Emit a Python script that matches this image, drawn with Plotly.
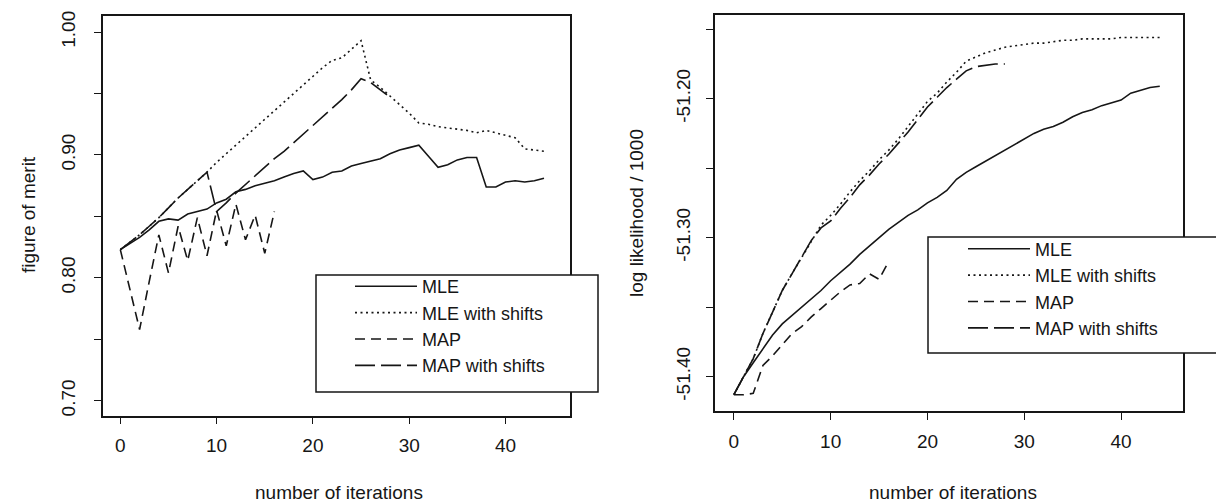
import plotly.graph_objects as go

# ---------------- data ----------------
iters_full = list(range(0, 45))
iters_map = list(range(0, 17))
iters_map_shift = list(range(0, 29))

# left panel: figure of merit
fom_mle = [0.823, 0.828, 0.833, 0.839, 0.846, 0.848, 0.847, 0.852, 0.854, 0.856,
           0.861, 0.864, 0.870, 0.872, 0.875, 0.877, 0.879, 0.882, 0.885, 0.887,
           0.880, 0.882, 0.886, 0.887, 0.891, 0.893, 0.895, 0.897, 0.901, 0.904,
           0.906, 0.908, 0.899, 0.890, 0.892, 0.896, 0.898, 0.898, 0.874, 0.874,
           0.878, 0.879, 0.878, 0.879, 0.881]
fom_mle_shift = [0.823, 0.829, 0.835, 0.842, 0.849, 0.857, 0.865, 0.872, 0.879, 0.886,
                 0.894, 0.901, 0.908, 0.915, 0.922, 0.929, 0.936, 0.943, 0.950, 0.957,
                 0.964, 0.971, 0.977, 0.979, 0.986, 0.993, 0.961, 0.955, 0.948, 0.941,
                 0.934, 0.926, 0.925, 0.923, 0.922, 0.921, 0.920, 0.918, 0.920, 0.918,
                 0.916, 0.914, 0.905, 0.904, 0.903]
fom_map = [0.823, 0.791, 0.758, 0.797, 0.835, 0.804, 0.842, 0.814, 0.849, 0.818,
           0.855, 0.826, 0.860, 0.831, 0.851, 0.820, 0.854]
fom_map_shift = [0.823, 0.829, 0.835, 0.842, 0.849, 0.857, 0.865, 0.872, 0.879, 0.886,
                 0.854, 0.861, 0.869, 0.876, 0.883, 0.890, 0.897, 0.903, 0.910, 0.917,
                 0.924, 0.931, 0.938, 0.945, 0.953, 0.962, 0.959, 0.953, 0.947]

# right panel: log likelihood / 1000
ll_mle = [-51.413, -51.400, -51.390, -51.380, -51.370, -51.362, -51.356, -51.350, -51.344, -51.338,
          -51.331, -51.325, -51.319, -51.312, -51.306, -51.300, -51.294, -51.289, -51.284, -51.280,
          -51.275, -51.271, -51.266, -51.258, -51.253, -51.249, -51.245, -51.241, -51.237, -51.233,
          -51.229, -51.225, -51.222, -51.220, -51.217, -51.213, -51.210, -51.208, -51.205, -51.203,
          -51.201, -51.196, -51.194, -51.192, -51.191]
ll_mle_shift = [-51.413, -51.400, -51.387, -51.369, -51.353, -51.338, -51.326, -51.314, -51.302, -51.291,
                -51.284, -51.276, -51.267, -51.259, -51.252, -51.244, -51.237, -51.229, -51.220, -51.211,
                -51.202, -51.196, -51.188, -51.181, -51.173, -51.170, -51.167, -51.165, -51.163, -51.162,
                -51.161, -51.160, -51.160, -51.159, -51.158, -51.158, -51.157, -51.157, -51.157, -51.157,
                -51.156, -51.156, -51.156, -51.156, -51.156]
ll_map = [-51.413, -51.413, -51.412, -51.392, -51.385, -51.377, -51.369, -51.364, -51.357, -51.351,
          -51.345, -51.339, -51.334, -51.333, -51.326, -51.330, -51.317]
ll_map_shift = [-51.413, -51.400, -51.387, -51.369, -51.353, -51.338, -51.326, -51.314, -51.302, -51.293,
                -51.288, -51.279, -51.271, -51.262, -51.255, -51.247, -51.240, -51.232, -51.224, -51.215,
                -51.206, -51.199, -51.192, -51.186, -51.180, -51.177, -51.176, -51.175, -51.175]

series_names = ["MLE", "MLE with shifts", "MAP", "MAP with shifts"]
x_ticks = [0, 10, 20, 30, 40]
left_y_ticks = [0.70, 0.75, 0.80, 0.85, 0.90, 0.95, 1.00]
left_y_labels = ["0.70", "", "0.80", "", "0.90", "", "1.00"]
right_y_ticks = [-51.40, -51.35, -51.30, -51.25, -51.20, -51.15]
right_y_labels = ["-51.40", "", "-51.30", "", "-51.20", ""]

# ---------------- styling ----------------
INK = "#161616"
FONT = "Liberation Sans, Arial, Helvetica, sans-serif"
FS = 19
LFS = 18
dashes = ["solid", "2px,3.5px", "10px,6px", "20px,6px"]

fig = go.Figure()

left_sets = [(iters_full, fom_mle), (iters_full, fom_mle_shift),
             (iters_map, fom_map), (iters_map_shift, fom_map_shift)]
right_sets = [(iters_full, ll_mle), (iters_full, ll_mle_shift),
              (iters_map, ll_map), (iters_map_shift, ll_map_shift)]

for (xs, ys), name, dash in zip(left_sets, series_names, dashes):
    fig.add_trace(go.Scatter(x=xs, y=ys, mode="lines", name=name,
                             line=dict(color=INK, width=1.6, dash=dash),
                             xaxis="x", yaxis="y", legend="legend"))
for (xs, ys), name, dash in zip(right_sets, series_names, dashes):
    fig.add_trace(go.Scatter(x=xs, y=ys, mode="lines", name=name,
                             line=dict(color=INK, width=1.6, dash=dash),
                             xaxis="x2", yaxis="y2", legend="legend2"))

W, H = 1216, 502

def px_x(p):
    return p / W

def px_y(p):
    return 1 - p / H

axis_common = dict(showgrid=False, zeroline=False, showline=True, mirror=True,
                   linecolor=INK, linewidth=1.5, ticks="outside", ticklen=7,
                   tickcolor=INK, tickwidth=1.3, automargin=False,
                   tickfont=dict(family=FONT, size=FS, color=INK))

legend_common = dict(borderwidth=0, bgcolor="rgba(0,0,0,0)",
                     font=dict(family=FONT, size=LFS, color=INK),
                     xanchor="left", yanchor="top", itemwidth=62,
                     tracegroupgap=0, itemclick=False, itemdoubleclick=False)

fig.update_layout(
    width=W, height=H,
    margin=dict(l=0, r=0, t=0, b=0),
    paper_bgcolor="white", plot_bgcolor="white",
    font=dict(family=FONT, size=FS, color=INK),
    xaxis=dict(domain=[px_x(103), px_x(570)], range=[-1.8, 46.7],
               tickvals=x_ticks, ticktext=[str(v) for v in x_ticks],
               anchor="y", ticklabelstandoff=5, **axis_common),
    yaxis=dict(domain=[px_y(415.5), px_y(15.5)], range=[0.688, 1.0135],
               tickvals=left_y_ticks, ticktext=left_y_labels, tickangle=-90,
               anchor="x", ticklabelstandoff=12, **axis_common),
    xaxis2=dict(domain=[px_x(715), px_x(1183)], range=[-1.95, 46.4],
                tickvals=x_ticks, ticktext=[str(v) for v in x_ticks],
                anchor="y2", ticklabelstandoff=5, **axis_common),
    yaxis2=dict(domain=[px_y(411), px_y(15)], range=[-51.4247, -51.1398],
                tickvals=right_y_ticks, ticktext=right_y_labels, tickangle=-90,
                anchor="x2", ticklabelstandoff=9, **axis_common),
    legend=dict(x=px_x(350), y=px_y(268), **legend_common),
    legend2=dict(x=px_x(963), y=px_y(230.5), **legend_common),
    showlegend=True,
)

# legend frames (R-style boxes)
fig.add_shape(type="rect", xref="paper", yref="paper",
              x0=px_x(316), x1=px_x(598), y0=px_y(392), y1=px_y(275),
              line=dict(color=INK, width=1.5), fillcolor="white", layer="above")
fig.add_shape(type="rect", xref="paper", yref="paper",
              x0=px_x(928), x1=px_x(1222), y0=px_y(353), y1=px_y(237),
              line=dict(color=INK, width=1.5), fillcolor="white", layer="above")

titles = [
    ("figure of merit", px_x(28), px_y(215), -90),
    ("number of iterations", px_x(339), px_y(492), 0),
    ("log likelihood / 1000", px_x(636), px_y(213), -90),
    ("number of iterations", px_x(953), px_y(492), 0),
]
for text, x, y, ang in titles:
    fig.add_annotation(text=text, x=x, y=y, xref="paper", yref="paper",
                       xanchor="center", yanchor="middle", showarrow=False,
                       textangle=ang, font=dict(family=FONT, size=FS, color=INK))

fig.write_html("out.html")
